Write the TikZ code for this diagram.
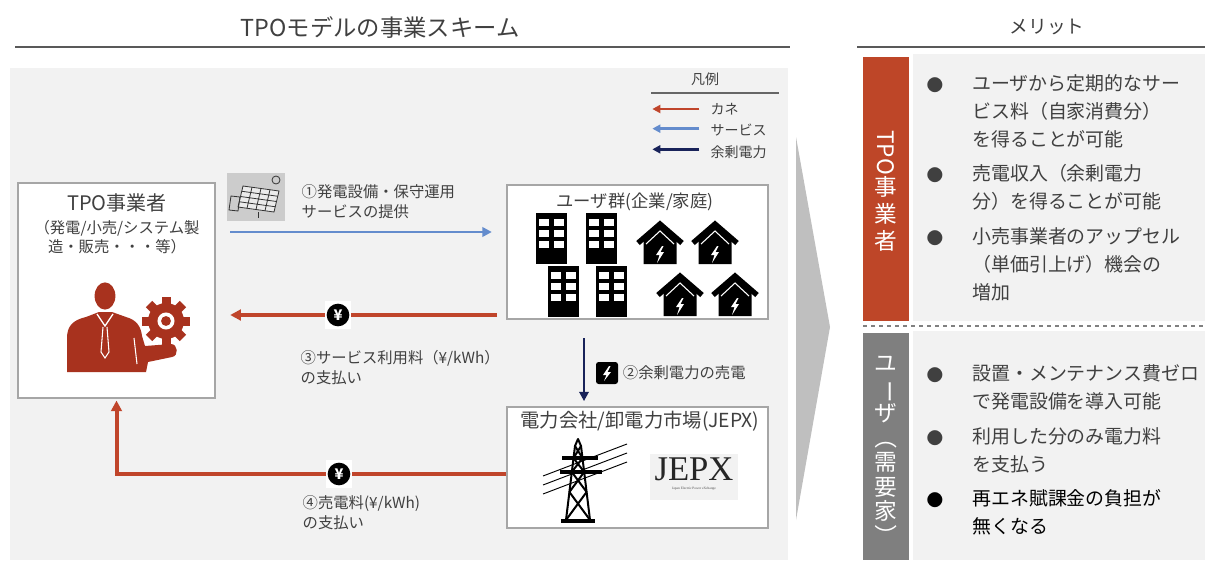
\documentclass[tikz,border=0pt]{standalone}
\usepackage{fontspec}
\setmainfont{Noto Sans CJK JP}
\newfontfamily\logofont{Liberation Serif}
\usepackage{tikz}
\usetikzlibrary{positioning,calc,fit,arrows.meta}

\definecolor{kane}{RGB}{192,69,43}
\definecolor{svc}{RGB}{100,140,205}
\definecolor{yojo}{RGB}{25,35,90}
\definecolor{panel}{RGB}{242,242,242}
\definecolor{txt}{RGB}{64,64,64}
\definecolor{icon}{RGB}{168,50,30}
\definecolor{tpored}{RGB}{190,70,40}
\definecolor{usrgray}{RGB}{127,127,127}

% vertical-writing helper: turn a glyph a quarter round about its middle
\newcommand{\tate}[1]{\rotatebox[origin=c]{-90}{#1}}

\begin{document}
\begin{tikzpicture}[
    x=0.75pt, y=-0.75pt, text=txt,
    box/.style={draw=black!35, fill=white, inner sep=0, line width=0.8pt},
    money/.style={draw=kane, line width=3pt, -{Triangle[length=8pt,width=8pt]}},
    service/.style={draw=svc, line width=2pt, -{Triangle[length=7pt,width=7pt]}},
    surplus/.style={draw=yojo, line width=2pt, -{Triangle[length=7pt,width=7pt]}},
    note/.style={font=\fontsize{11.5}{15}\selectfont, align=left, anchor=west},
    legend/.style={font=\fontsize{10.5}{12}\selectfont, anchor=west},
    yen/.style={fill=white, minimum width=19pt, minimum height=21pt, inner sep=0, text=white,
      font=\bfseries\fontsize{11}{11}\selectfont,
      path picture={\fill[black] (path picture bounding box.center) circle (8.5pt);}},
    item/.style={anchor=north west, align=left, inner sep=0, font=\fontsize{14.2}{21}\selectfont},
    bullet/.style={font=\fontsize{12.5}{12.5}\selectfont, inner sep=0}
  ]
  \useasboundingbox (0,0) rectangle (1205,560);

  % headings
  \node[font=\fontsize{17.5}{20}\selectfont] (scheme) at (380,28) {TPOモデルの事業スキーム};
  \draw[black!65, line width=1.5pt] (15,47) -- (790,47);
  \node[font=\fontsize{14}{17}\selectfont] (merit) at (1047,27) {メリット};
  \draw[black!65, line width=1.5pt] (857,47) -- (1205,47);

  % scheme panel and the big chevron
  \fill[panel] (10,68) rectangle (788,560);
  \fill[black!25] (796,137) -- (830,327) -- (796,520) -- cycle;

  % legend
  \node[font=\fontsize{10.5}{12}\selectfont] (lgTitle) at (705,79) {凡例};
  \draw[black!60, line width=1pt] (651,93) -- (779,93);
  \node[legend] (lgKane) at (706,109) {カネ};
  \node[legend] (lgSvc) at (706,130) {サービス};
  \node[legend] (lgYojo) at (706,152) {余剰電力};
  \draw[kane, line width=2pt, -{Triangle[length=6pt,width=6pt]}] ([xshift=-5pt]lgKane.west) -- ++(-47,0);
  \draw[svc, line width=2pt, -{Triangle[length=6pt,width=6pt]}] ([xshift=-5pt,yshift=1pt]lgSvc.west) -- ++(-47,0);
  \draw[yojo, line width=2pt, -{Triangle[length=6pt,width=6pt]}] ([xshift=-5pt,yshift=2pt]lgYojo.west) -- ++(-47,0);

  % the three parties
  \node[box, fit={(18,183) (215,398)}] (tpo) {};
  \node[box, fit={(507,185) (768,319)}] (users) {};
  \node[box, fit={(507,407) (768,528)}] (market) {};

  \node[font=\fontsize{15}{18}\selectfont] (tpoName) at (117,203) {TPO事業者};
  \node[font=\fontsize{11.5}{14}\selectfont, align=center, below=-1pt of tpoName] (tpoRole) {（発電/小売/システム製\\造・販売・・・等）};
  \node[font=\fontsize{13}{16}\selectfont] (usersName) at (635,202) {ユーザ群(企業/家庭)};
  \node[font=\fontsize{14.5}{17}\selectfont] (marketName) at (640,421) {電力会社/卸電力市場(JEPX)};

  % person with gear
  \fill[icon] (105,296) ellipse (7.8pt and 10.2pt);
  \fill[icon] (67,372) -- (67,338) .. controls (67,326) and (73,320) .. (86,317) -- (99,312)
    -- (112,312) -- (126,317) .. controls (137,320) and (141,327) .. (142,336) -- (145,346)
    -- (171,344) .. controls (178,344) and (179,356) .. (172,357) -- (148,362) -- (146,372) -- cycle;
  \draw[white, line width=1pt] (97,314) -- (105,326) -- (113,314);
  \draw[white, line width=0.8pt] (103,327) -- (101,352) -- (105,358) -- (109,352) -- (107,327);
  \draw[white, line width=0.8pt] (134,338) -- (137,364);
  \fill[icon] (166,321) circle (13.5pt);
  \foreach \a in {0,45,...,315}
    \fill[icon, rotate around={\a:(166,321)}] (161.5,297) rectangle (170.5,306);
  \fill[white] (166,321) circle (6.4pt);
  \fill[icon] (166,321) circle (3.7pt);

  % solar panel picture
  \node[fill=black!20, minimum width=43pt, minimum height=36pt, inner sep=0] (solar) at (256,197) {};
  \begin{scope}[black!80, line width=0.6pt]
    \fill[black!8] (243,186) -- (279,191) -- (274,212) -- (238,207) -- cycle;
    \draw (243,186) -- (279,191) -- (274,212) -- (238,207) -- cycle;
    \foreach \t in {0.25,0.5,0.75}{
      \draw ($(243,186)!\t!(279,191)$) -- ($(238,207)!\t!(274,212)$);
      \draw ($(243,186)!\t!(238,207)$) -- ($(279,191)!\t!(274,212)$);
    }
    \draw (231,196) -- (240,197) -- (238,211) -- (229,210) -- cycle;
    \draw (258,212) -- (258,218);
    \draw (276,180) circle (3pt);
  \end{scope}

  % office buildings
  \foreach \bx/\by in {536/213, 586/213, 548/266, 596/266}{
    \fill[black] (\bx,\by) rectangle ++(31,51);
    \foreach \wx in {0,1}
      \foreach \wy in {0,1,2}
        \fill[white] (\bx+3+\wx*15,\by+6+\wy*11) rectangle ++(10,7);
  }
  % houses
  \foreach \hx/\hy in {660/220, 715/220, 680/272, 735/272}{
    \fill[black] (\hx-16.5,\hy+44) -- (\hx-16.5,\hy+19) -- (\hx,\hy+6) -- (\hx+16.5,\hy+19) -- (\hx+16.5,\hy+44) -- cycle;
    \draw[black, line width=4pt] (\hx-22,\hy+23) -- (\hx,\hy+4) -- (\hx+22,\hy+23);
    \draw[white, line width=0.8pt] (\hx-14,\hy+24) -- (\hx,\hy+11) -- (\hx+14,\hy+24);
    \fill[white] (\hx+2,\hy+26) -- (\hx-4,\hy+35) -- (\hx-0.5,\hy+35) -- (\hx-3,\hy+43)
      -- (\hx+4,\hy+32) -- (\hx+0.5,\hy+32) -- (\hx+3.5,\hy+26) -- cycle;
  }

  % pylon
  \begin{scope}[black, line width=0.7pt]
    \foreach \k in {0,1,2}
      \draw (543,476+9*\k) -- (627,444+9*\k);
  \end{scope}
  \begin{scope}[black, line width=1.5pt, line join=round]
    \draw (566,520) -- (575,446) -- (578,439) -- (581,446) -- (590,520);
    \draw (575,446) -- (582.5,458) (581,446) -- (573.5,458);
    \draw (573.5,458) -- (584.2,472) (582.5,458) -- (571.8,472);
    \draw (571.8,472) -- (586.6,492) (584.2,472) -- (569.4,492);
    \draw (569.4,492) -- (590,520) (586.6,492) -- (566,520);
    \draw[line width=2.4pt] (562,458) -- (598,458) (560,472) -- (602,472) (561,521) -- (595,521);
  \end{scope}

  % JEPX logo
  \node[fill=black!5, minimum width=66pt, minimum height=34pt, inner sep=0] (jepxLogo) at (694,477) {};
  \node[font=\logofont\fontsize{26}{26}\selectfont, text=black!85, inner sep=0, text depth=0pt] (jepxWord) at (694,469) {JEPX};
  \node[font=\logofont\fontsize{2.6}{3}\selectfont, text=black!70, inner sep=0, below=5pt of jepxWord] (jepxSub) {Japan Electric Power eXchange};

  % flows
  \coordinate (svcY) at (0,232);
  \coordinate (payY) at (0,315);
  \coordinate (sellX) at (584,0);
  \coordinate (feeY) at (0,474);

  \draw[service, shorten <=11pt, shorten >=11pt] (tpo.east |- svcY) -- (users.west |- svcY);
  \node[note] (flow1) at (297,202) {①発電設備・保守運用\\サービスの提供};

  \draw[money, shorten <=7pt, shorten >=11pt] (users.west |- payY) -- (tpo.east |- payY);
  \node[yen] (yenPay) at (338,315) {¥};
  \node[note] (flow3) at (296,368) {③サービス利用料（¥/kWh）\\の支払い};

  \draw[surplus, shorten <=14pt, shorten >=4pt] (users.south -| sellX) -- (market.north -| sellX);
  \node[fill=black, rounded corners=2pt, minimum size=16.5pt, inner sep=0] (boltBox) at (607,373) {};
  \fill[white] ($(boltBox.center)+(2,-7)$) -- ($(boltBox.center)+(-4,2)$) -- ($(boltBox.center)+(-0.5,2)$)
    -- ($(boltBox.center)+(-3,8)$) -- ($(boltBox.center)+(4,-1)$) -- ($(boltBox.center)+(0.5,-1)$)
    -- ($(boltBox.center)+(3.5,-7)$) -- cycle;
  \node[note, right=0pt of boltBox] (flow2) {②余剰電力の売電};

  \draw[money, shorten >=1.5pt] (market.west |- feeY) -| (tpo.south);
  \node[yen] (yenFee) at (339,474) {¥};
  \node[note] (flow4) at (298,513) {④売電料(¥/kWh)\\の支払い};

  % merits
  \fill[panel] (913,54) rectangle (1205,321);
  \fill[panel] (913,331) rectangle (1205,560);
  \node[fill=tpored, fit={(863,57) (909,321)}, inner sep=0] (tpoTab) {};
  \node[fill=usrgray, fit={(863,333) (909,560)}, inner sep=0] (usrTab) {};
  \draw[black!50, dashed, line width=1pt] (863,326) -- (1205,326);

  \node[text=white, align=center, font=\fontsize{17}{20.5}\selectfont] (tpoTabTxt) at (886,191)
    {\tate{TPO}\\事\\業\\者};
  \node[text=white, align=center, font=\fontsize{17}{18.5}\selectfont] (usrTabTxt) at (886,452)
    {ユ\\\tate{ー}\\ザ\\\tate{（}\\需\\要\\家\\\tate{）}};

  \node[bullet] (b1) at (935,85) {●};
  \node[item] (m1) at (972,74) {ユーザから定期的なサー\\ビス料（自家消費分）\\を得ることが可能};
  \node[bullet] (b2) at (935,175) {●};
  \node[item] (m2) at (972,164) {売電収入（余剰電力\\分）を得ることが可能};
  \node[bullet] (b3) at (935,238) {●};
  \node[item] (m3) at (972,227) {小売事業者のアップセル\\（単価引上げ）機会の\\増加};

  \node[bullet] (b4) at (935,375) {●};
  \node[item] (m4) at (972,364) {設置・メンテナンス費ゼロ\\で発電設備を導入可能};
  \node[bullet] (b5) at (935,438) {●};
  \node[item] (m5) at (972,427) {利用した分のみ電力料\\を支払う};
  \node[bullet, text=black] (b6) at (935,500) {●};
  \node[item, text=black] (m6) at (972,489) {再エネ賦課金の負担が\\無くなる};
\end{tikzpicture}
\end{document}
